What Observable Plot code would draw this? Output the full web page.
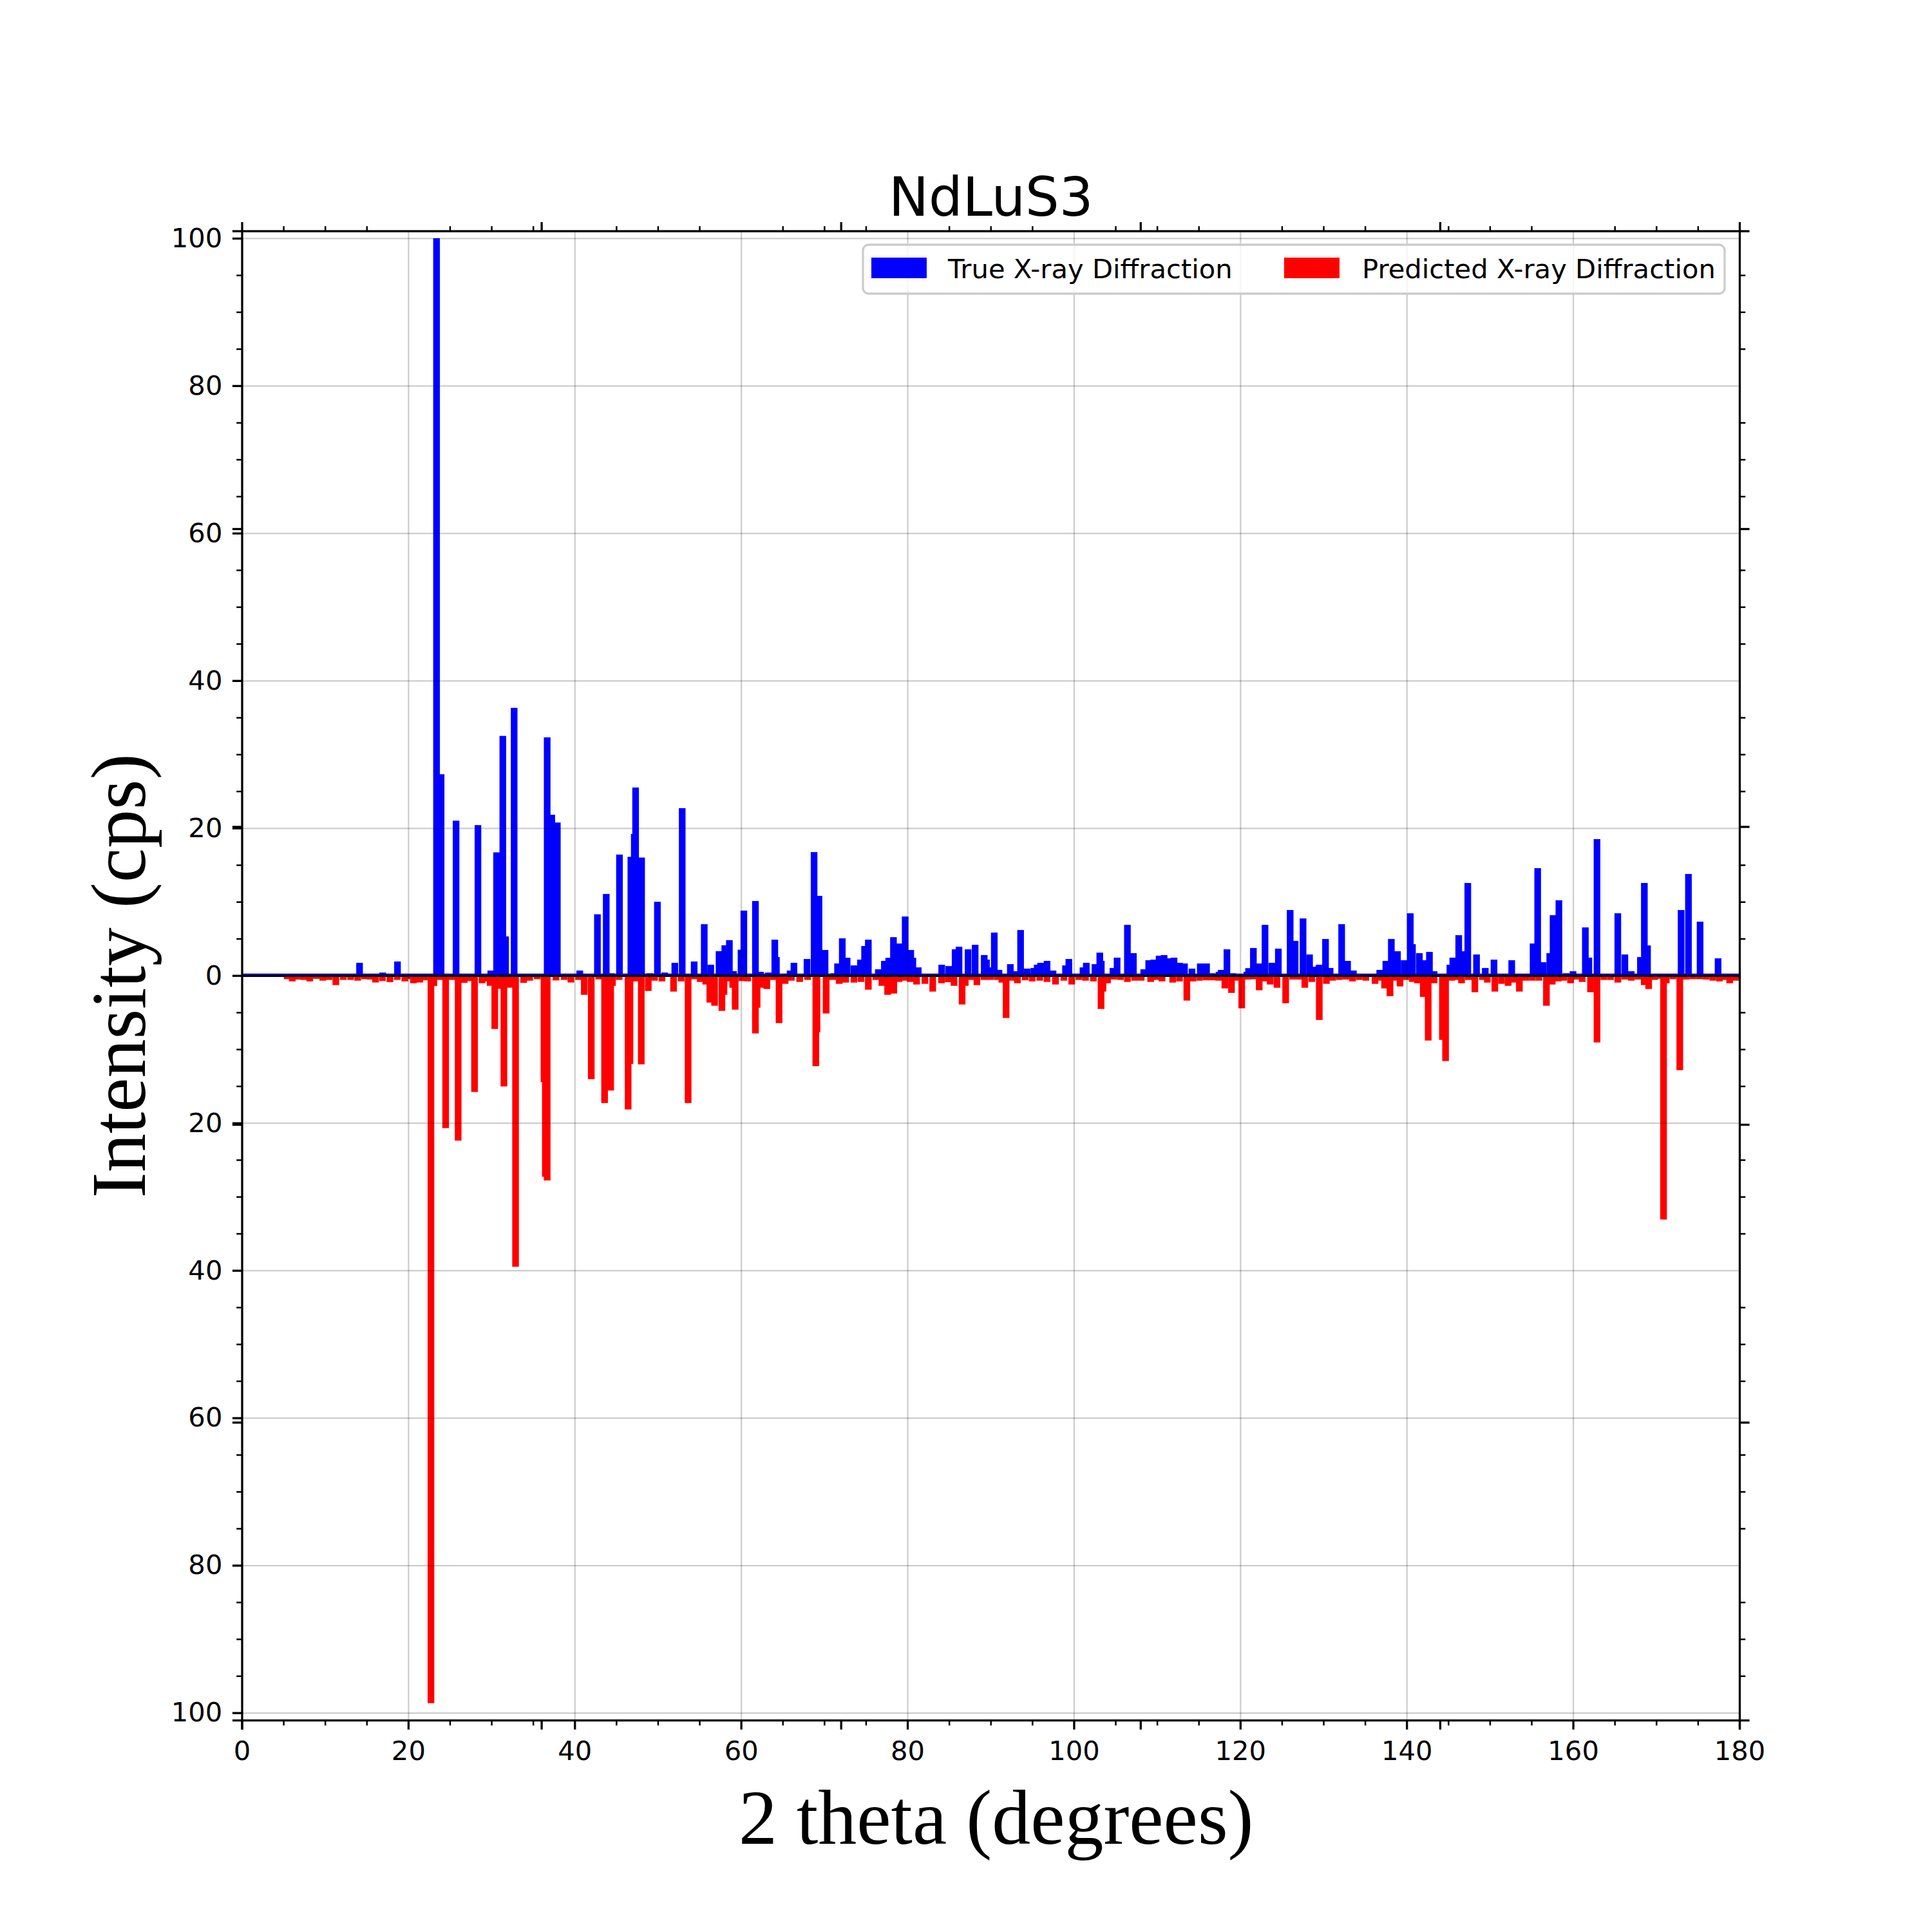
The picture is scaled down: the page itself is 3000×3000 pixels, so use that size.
<!DOCTYPE html>
<html>
<head>
<meta charset="utf-8">
<script src="https://cdn.jsdelivr.net/npm/d3@7"></script>
<script src="https://cdn.jsdelivr.net/npm/@observablehq/plot@0.6"></script>
<style>
  body { margin: 0; background: #ffffff; }
</style>
</head>
<body>
<div id="chart"></div>
<script>
// ---------- data (2θ in degrees, intensity in cps) ----------
const chartTitle = "NdLuS3";
const xLabel = "2 theta (degrees)";
const yLabel = "Intensity (cps)";
const seriesNames = ["True X-ray Diffraction", "Predicted X-ray Diffraction"];

const trueTheta = [14.15,16.93,18.71,23.4,23.95,25.75,28.38,29.92,30.62,31.7,31.37,32.73,36.7,37.25,37.92,
  40.62,42.74,43.8,44.4,45.39,46.76,47.17,47.33,48.05,49.07,49.95,50.83,52.04,52.93,54.37,55.58,56.36,57.36,57.75,58.05,58.6,59.1,60.0,60.34,
  61.73,62.35,63.3,64.06,64.25,65.4,65.9,66.36,67.93,68.78,69.37,70.1,71.2,71.6,72.17,72.75,73.57,74.35,74.85,75.3,76.5,77.23,77.75,78.32,79.0,79.73,
  80.4,80.65,81.3,84.12,84.95,85.73,86.2,87.29,88.14,89.23,89.5,89.7,90.44,91.0,92.37,92.9,93.6,94.4,95.2,95.6,96.0,96.78,97.5,99.0,99.4,
  101.1,101.5,102.55,103.12,103.3,104.7,105.2,106.44,107.16,108.4,109.0,109.6,110.25,110.85,111.5,112.04,112.7,113.3,114.2,115.2,115.95,116.6,117.45,117.7,118.4,119.1,
  120.8,121.0,121.58,122.3,122.98,123.8,124.58,126.0,126.6,127.55,128.33,128.9,129.47,130.25,130.8,132.19,132.9,133.6,136.77,137.5,138.16,138.9,139.7,
  140.44,140.7,141.53,142.1,142.74,143.3,145.2,145.55,146.26,146.9,147.35,148.4,149.45,150.5,152.63,155.2,155.75,156.4,157.2,157.6,158.3,159.2,
  160.0,161.48,161.9,162.88,165.38,166.23,167.0,168.1,168.57,168.95,172.99,173.87,175.27,177.43];
const trueIntensity = [1.72,0.4,1.9,100,27.3,21.0,20.4,0.67,16.7,5.3,32.5,36.3,32.3,21.8,20.75,
  0.67,8.3,11.06,0.3,16.4,16.1,19.2,25.5,16.0,0.3,10.0,0.4,1.72,22.7,1.9,6.96,1.46,3.3,1.7,4.1,4.8,0.6,3.5,8.8,
  10.1,0.5,0.4,4.86,2.5,0.25,0.67,1.72,2.24,16.74,10.8,3.46,0.3,1.63,5.04,2.4,1.37,2.15,4.0,4.86,0.84,1.98,2.4,5.2,4.34,8.0,
  3.46,2.4,1.1,1.46,1.28,3.55,3.9,3.55,4.16,2.77,2.15,1.1,5.82,0.76,1.54,0.58,6.17,0.93,1.02,1.46,1.72,1.98,0.67,1.37,2.24,
  1.1,1.72,1.54,3.1,1.98,1.02,2.42,6.87,3.03,0.84,2.07,2.15,2.68,2.77,2.33,2.42,1.72,1.63,0.93,1.63,1.63,0.3,0.5,0.76,3.55,0.3,
  0.5,1.0,3.73,1.63,6.87,1.72,3.64,8.88,4.69,7.74,2.85,1.19,1.46,4.95,1.02,6.96,1.98,0.67,0.76,1.98,4.95,3.29,2.07,
  8.44,4.25,3.03,2.07,3.2,0.58,1.46,2.42,5.47,3.29,12.55,2.85,1.02,2.15,2.07,4.34,14.56,1.8,3.03,8.18,10.2,0.3,
  0.58,6.52,2.42,18.5,8.44,2.85,0.58,2.5,12.55,4.08,8.88,13.77,7.3,2.33];

const predTheta = [0.4,1.2,2.0,2.8,3.6,4.4,5.45,6.07,6.82,7.45,8.16,8.96,9.73,10.49,11.3,12.2,13.08,13.93,14.76,15.43,16.07,16.9,17.8,18.69,19.59,
  20.2,20.63,21.38,22.05,22.73,23.08,23.79,24.5,25.28,26.0,26.73,27.27,27.97,28.87,29.61,29.85,30.4,30.95,31.5,32.2,32.9,33.87,34.6,35.5,36.32,36.48,36.7,37.76,38.74,39.55,
  40.47,41.16,42.0,42.9,43.6,44.33,44.55,45.35,46.43,46.65,47.34,48.01,48.85,49.6,50.5,51.89,52.8,53.64,54.35,55.09,55.76,56.25,56.82,57.7,57.95,58.3,59.0,59.3,
  60.1,60.8,61.73,61.93,62.5,63.1,63.9,64.57,65.3,66.05,67.05,68.0,68.99,69.13,70.23,71.0,71.8,72.58,73.57,74.42,75.3,76.2,76.93,77.62,78.36,79.0,79.7,
  80.35,81.1,82.1,83.04,84.1,84.9,85.6,86.57,86.95,87.65,88.35,89.2,90.0,90.8,91.35,91.86,92.53,93.22,94.15,95.0,95.9,96.78,97.8,98.8,99.74,
  100.6,101.4,102.35,103.27,103.5,104.05,104.8,105.6,106.44,107.3,108.1,109.23,109.9,110.6,111.88,112.7,113.58,114.3,115.1,115.9,116.7,117.4,118.15,118.95,119.6,
  120.18,120.9,121.5,122.28,123.0,123.6,124.42,125.46,126.3,127.0,127.76,128.6,129.5,130.35,131.1,131.9,132.7,133.5,134.3,135.1,136.2,136.8,137.35,138.0,138.6,139.2,139.95,
  140.7,141.3,142.0,142.59,143.3,144.3,144.68,145.45,145.95,146.6,147.4,148.2,149.1,149.7,150.6,151.4,152.2,152.95,153.55,154.3,155.1,155.9,156.8,157.5,158.2,158.9,159.7,
  160.4,161.1,162.1,162.88,163.7,164.5,165.38,166.2,167.0,167.8,168.56,169.09,169.8,170.3,170.88,171.2,172.0,172.83,173.6,174.4,175.2,176.0,176.8,177.6,178.2,178.83,179.6];
const predIntensity = [0.2,0.2,0.2,0.2,0.2,0.2,0.5,0.8,0.55,0.6,0.8,0.45,0.7,0.6,1.3,0.6,0.6,0.7,0.5,0.55,0.95,0.75,0.9,0.6,0.8,
  0.5,1.05,0.95,0.65,98.7,1.43,0.6,20.7,0.6,22.4,1.0,0.75,15.8,1.05,0.8,1.4,7.25,1.8,15.05,1.65,39.5,1.0,0.7,0.5,14.46,27.3,27.8,0.67,0.6,0.95,
  0.6,2.62,14.06,0.52,17.3,15.6,1.4,0.6,18.17,12.0,0.8,12.05,2.1,0.7,0.8,2.18,0.8,17.3,0.5,0.87,1.22,3.67,4.1,4.8,2.62,0.8,1.66,4.63,
  0.75,0.8,7.86,4.37,1.66,1.83,0.6,6.46,1.13,0.7,0.87,0.6,12.3,7.7,5.15,0.6,1.13,0.96,0.96,0.87,1.92,0.6,1.4,2.62,2.45,0.87,0.7,
  0.87,1.22,1.13,2.18,1.05,0.9,1.4,3.93,1.4,0.6,1.3,0.6,0.6,0.6,0.96,5.76,0.7,1.05,0.65,0.8,0.7,0.87,1.22,0.7,1.22,
  0.6,0.7,0.8,4.54,2.18,1.05,0.55,0.6,0.87,0.7,0.7,0.87,0.6,0.8,0.96,0.8,3.4,0.8,0.7,0.65,0.65,0.7,1.75,2.36,0.7,
  4.45,0.55,0.52,2.0,0.8,1.22,1.66,3.76,0.55,0.55,1.66,0.87,6.03,1.13,0.7,0.6,0.55,0.8,0.6,0.7,1.13,0.7,1.75,2.8,0.7,1.48,0.6,
  0.87,1.05,2.9,8.82,1.05,8.73,11.6,0.7,0.6,1.05,0.6,2.27,0.6,0.96,2.18,1.13,1.4,0.96,2.18,0.7,0.7,0.7,4.1,1.22,0.8,0.7,1.05,
  0.55,0.87,2.27,9.08,0.6,0.6,0.96,0.55,0.7,0.55,1.3,1.83,0.6,0.45,33.1,1.05,0.5,12.84,0.55,0.5,0.5,0.55,0.7,0.8,0.6,1.05,0.7];

// ticks
const xMajorTicks = [0, 20, 40, 60, 80, 100, 120, 140, 160, 180];
const xMinorTicks = [5,10,15,25,30,35,45,50,55,65,70,75,85,90,95,105,110,115,125,130,135,145,150,155,165,170,175];
const xTwinTicks = [0, 36, 72, 108, 144, 180];
const yMajorTicks = [-100, -80, -60, -40, -20, 0, 20, 40, 60, 80, 100];
const yMinorTicks = [-95,-90,-85,-75,-70,-65,-55,-50,-45,-35,-30,-25,-15,-10,-5,5,10,15,25,30,35,45,50,55,65,70,75,85,90,95];
const yTwinTicks = [-101, -60.6, -20.2, 20.2, 60.6, 101];

// ---------- build ----------
const barWidth = 0.8;
const trueData = trueTheta.map((t, i) => ({theta: t, intensity: trueIntensity[i]}));
const predData = predTheta.map((t, i) => ({theta: t, intensity: predIntensity[i]}));

const majorW = 3.3, minorW = 2.5, majorLen = 14.6, minorLen = 8.3;
const tickFont = 41.7;
const serif = "'Liberation Serif', 'Times New Roman', serif";
const sans = "'DejaVu Sans', sans-serif";

const svg = Plot.plot({
  width: 3000,
  height: 3000,
  marginLeft: 375.5,
  marginRight: 299,
  marginTop: 358.5,
  marginBottom: 329,
  style: {fontFamily: sans, fontSize: "41.7px", background: "#ffffff", overflow: "visible"},
  x: {domain: [0, 180], label: null},
  y: {domain: [-101, 101], label: null},
  marks: [
    // bars
    Plot.rectY(trueData, {x1: d => d.theta - barWidth / 2, x2: d => d.theta + barWidth / 2, y1: 0, y2: "intensity", fill: "#0000ff"}),
    Plot.rectY(predData, {x1: d => d.theta - barWidth / 2, x2: d => d.theta + barWidth / 2, y1: 0, y2: d => -d.intensity, fill: "#ff0000"}),
    // grid (drawn over the bars like matplotlib)
    Plot.gridX(xMajorTicks, {stroke: "#000000", strokeOpacity: 0.2, strokeWidth: 2.2}),
    Plot.gridY(yMajorTicks, {stroke: "#000000", strokeOpacity: 0.2, strokeWidth: 2.2}),
    // baseline
    Plot.ruleY([0], {stroke: "#0000ff", strokeWidth: 2, dy: -2.5}),
    Plot.ruleY([0], {stroke: "#000000", strokeWidth: 3.3}),
    Plot.frame({stroke: "#000000", strokeWidth: 3.3}),
    // bottom axis
    Plot.axisX({anchor: "bottom", ticks: xMajorTicks, tickSize: majorLen, tickPadding: 17, strokeWidth: majorW, fontSize: tickFont, tickFormat: d => String(d), label: null}),
    Plot.axisX({anchor: "bottom", ticks: xMinorTicks, tickSize: minorLen, strokeWidth: minorW, fill: "none", label: null}),
    Plot.axisX({anchor: "bottom", ticks: xTwinTicks, tickSize: majorLen, strokeWidth: majorW, fill: "none", label: null}),
    // top axis
    Plot.axisX({anchor: "top", ticks: xMinorTicks, tickSize: minorLen, strokeWidth: minorW, fill: "none", label: null}),
    Plot.axisX({anchor: "top", ticks: xTwinTicks, tickSize: majorLen, strokeWidth: majorW, fill: "none", label: null}),
    // left axis
    Plot.axisY({anchor: "left", ticks: yMajorTicks, tickSize: majorLen, tickPadding: 16, strokeWidth: majorW, fontSize: tickFont, tickFormat: d => String(Math.abs(d)), label: null}),
    Plot.axisY({anchor: "left", ticks: yMinorTicks, tickSize: minorLen, strokeWidth: minorW, fill: "none", label: null}),
    Plot.axisY({anchor: "left", ticks: yTwinTicks, tickSize: majorLen, strokeWidth: majorW, fill: "none", label: null}),
    // right axis
    Plot.axisY({anchor: "right", ticks: yMinorTicks, tickSize: minorLen, strokeWidth: minorW, fill: "none", label: null}),
    Plot.axisY({anchor: "right", ticks: yTwinTicks, tickSize: majorLen, strokeWidth: majorW, fill: "none", label: null}),
    // title and axis labels
    Plot.text([chartTitle], {frameAnchor: "top", textAnchor: "middle", lineAnchor: "bottom", dy: -24.5, fontSize: 83, fontFamily: sans, fill: "#000000"}),
    Plot.text([xLabel], {frameAnchor: "bottom", textAnchor: "middle", lineAnchor: "bottom", dx: 8, dy: 191, fontSize: 120, fontFamily: serif, fill: "#000000"}),
    Plot.text([yLabel], {frameAnchor: "left", textAnchor: "middle", lineAnchor: "bottom", rotate: -90, dx: -151.5, fontSize: 120, fontFamily: serif, fill: "#000000"})
  ]
});

// ---------- legend (upper right, matplotlib style) ----------
const s = d3.select(svg);
const lg = s.append("g").attr("font-family", sans).attr("font-size", 41.7).attr("text-anchor", "start");
lg.append("rect").attr("x", 1340).attr("y", 380).attr("width", 1338).attr("height", 76).attr("rx", 9)
  .attr("fill", "#ffffff").attr("fill-opacity", 0.8).attr("stroke", "#cccccc").attr("stroke-width", 3.3);
const legendItems = [
  {name: seriesNames[0], color: "#0000ff", px: 1353, tx: 1472},
  {name: seriesNames[1], color: "#ff0000", px: 1994, tx: 2115}
];
legendItems.forEach(it => {
  lg.append("rect").attr("x", it.px).attr("y", 400).attr("width", 86).attr("height", 32).attr("fill", it.color);
  lg.append("text").attr("x", it.tx).attr("y", 432).attr("text-anchor", "start").attr("fill", "#000000").text(it.name);
});

document.getElementById("chart").appendChild(svg);
</script>
</body>
</html>
